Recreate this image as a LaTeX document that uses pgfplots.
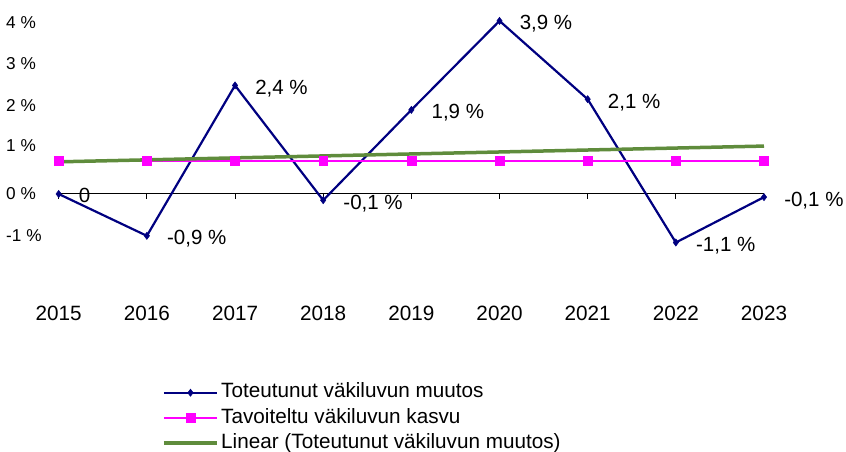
\documentclass[border=0pt]{standalone}
\usepackage{fontspec}
\setmainfont{Liberation Sans}
\usepackage{pgfplots}
\pgfplotsset{compat=1.18}
\definecolor{navyc}{RGB}{0,0,128}
\definecolor{pinkc}{RGB}{255,0,255}
\definecolor{greenc}{RGB}{95,140,60}
\begin{document}
\begin{tikzpicture}
\path[use as bounding box] (0,0) rectangle (846pt,452pt);
\begin{axis}[
  at={(58.7pt,169pt)}, anchor=south west,
  scale only axis, width=705.3pt, height=267pt,
  xmin=0, xmax=8, ymin=-2, ymax=4,
  clip=false,
  axis x line=middle, axis y line=left,
  hide obscured x ticks=false,
  x axis line style={-, black, line width=1pt},
  y axis line style={draw=none},
  xtick={0,1,2,3,4,5,6,7,8},
  xticklabels={2015,2016,2017,2018,2019,2020,2021,2022,2023},
  tick align=outside,
  major tick length=5pt,
  x tick style={black, line width=1pt},
  ytick style={draw=none},
  ytick={-0.944,0,1.085,1.978,2.92,3.85},
  yticklabels={-1 \%,0 \%,1 \%,2 \%,3 \%,4 \%},
  xticklabel style={anchor=base, inner sep=0pt, yshift=-121.8pt, font=\fontsize{20.7}{24}\selectfont},
  yticklabel style={anchor=west, inner sep=0pt, xshift=-47.7pt, font=\fontsize{17.2}{20}\selectfont},
  legend cell align=left,
  legend style={at={(axis description cs:0.1465,-0.363)}, anchor=north west,
    draw=none, fill=none, inner sep=0pt, column sep=0pt, row sep=0pt,
    nodes={inner sep=2.5pt, text height=15.2pt, text depth=5pt},
    font=\fontsize{20.7}{24}\selectfont},
  legend image code/.code={\draw[mark repeat=2,mark phase=2,#1] plot coordinates {(0pt,0pt) (26.5pt,0pt) (53pt,0pt)};},
]
\addplot[navyc, line width=2.2pt, mark=diamond*, mark size=3.6pt, mark options={solid, line width=0.5pt},
  point meta=explicit symbolic, nodes near coords,
  every node near coord/.style={anchor=base west, inner sep=0pt, xshift=20pt, yshift=-9pt, text=black, font=\fontsize{20.5}{24}\selectfont}]
  coordinates {(0,0) [0] (1,-0.94) [-0,9 \%] (2,2.44) [2,4 \%] (3,-0.14) [-0,1 \%] (4,1.89) [1,9 \%] (5,3.89) [3,9 \%] (6,2.13) [2,1 \%] (7,-1.09) [-1,1 \%] (8,-0.07) [-0,1 \%]};
\addlegendentry{Toteutunut väkiluvun muutos}
\addplot[pinkc, line width=2pt, mark=square*, mark size=4.4pt, mark options={solid, line width=0.5pt}]
  coordinates {(0,0.74) (1,0.74) (2,0.74) (3,0.74) (4,0.74) (5,0.74) (6,0.74) (7,0.74) (8,0.74)};
\addlegendentry{Tavoiteltu väkiluvun kasvu}
\addplot[greenc, line width=3.5pt] coordinates {(0,0.723) (8,1.077)};
\addlegendentry{Linear (Toteutunut väkiluvun muutos)}
\end{axis}
\end{tikzpicture}
\end{document}
